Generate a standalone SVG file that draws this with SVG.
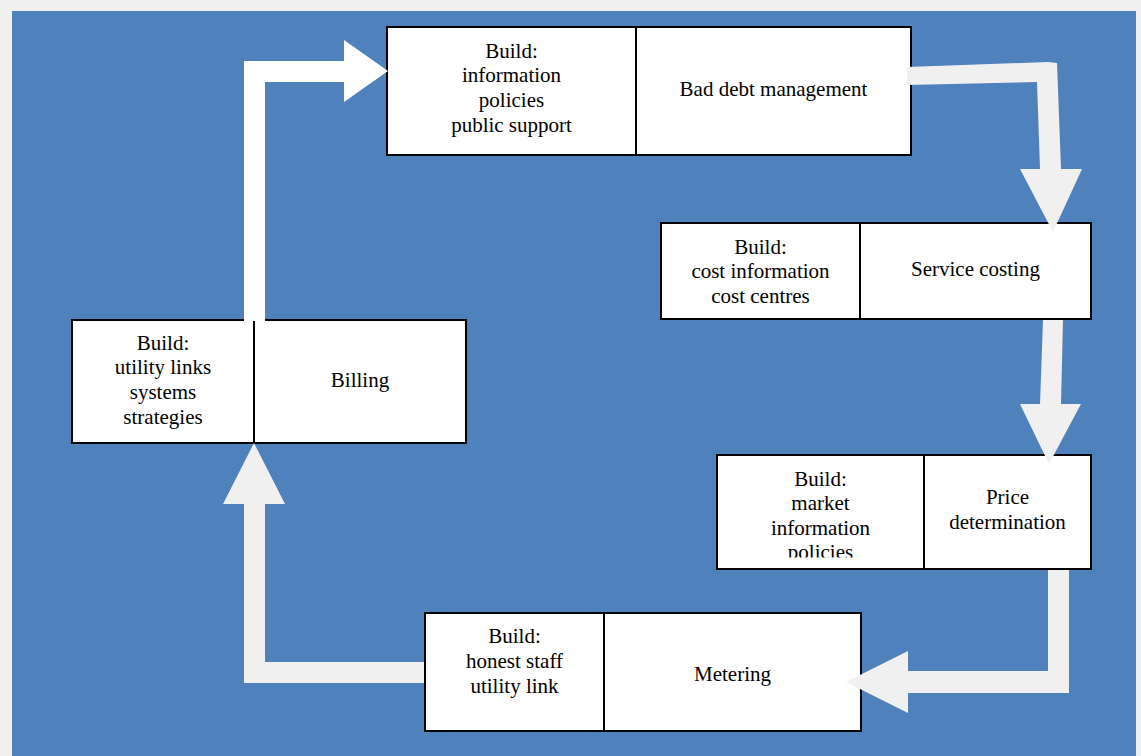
<svg xmlns="http://www.w3.org/2000/svg" width="1141" height="756" viewBox="0 0 1141 756">
<style>
.box{fill:#ffffff;stroke:#000000;stroke-width:2}
.div{stroke:#000000;stroke-width:2}
.t{font-family:"Liberation Serif","Times New Roman",serif;font-size:21px;fill:#000000;text-anchor:middle}
.arr{fill:#f0f0f0}
.arrw{fill:#ffffff}
</style>
<defs>
<clipPath id="clipPrice"><rect x="717" y="455" width="207" height="102.5"/></clipPath>
</defs>
<rect x="0" y="0" width="1141" height="756" fill="#f0f0f0"/>
<rect x="12" y="11" width="1124" height="745" fill="#4f81bd"/>

<g id="node-bad-debt">
<rect class="box" x="387" y="27" width="524" height="128"/>
<line class="div" x1="636" y1="27" x2="636" y2="155"/>
<text class="t" x="511.5" y="58">Build:</text>
<text class="t" x="511.5" y="82">information</text>
<text class="t" x="511.5" y="107">policies</text>
<text class="t" x="511.5" y="132">public support</text>
<text class="t" x="773.5" y="96">Bad debt management</text>
</g>

<g id="node-service-costing">
<rect class="box" x="661" y="223" width="430" height="96"/>
<line class="div" x1="860" y1="223" x2="860" y2="319"/>
<text class="t" x="760.5" y="254">Build:</text>
<text class="t" x="760.5" y="278">cost information</text>
<text class="t" x="760.5" y="303">cost centres</text>
<text class="t" x="975.5" y="276">Service costing</text>
</g>

<g id="node-price">
<rect class="box" x="717" y="455" width="374" height="114"/>
<line class="div" x1="924" y1="455" x2="924" y2="569"/>
<g clip-path="url(#clipPrice)">
<text class="t" x="820.5" y="486">Build:</text>
<text class="t" x="820.5" y="510">market</text>
<text class="t" x="820.5" y="535">information</text>
<text class="t" x="820.5" y="559">policies</text>
</g>
<text class="t" x="1007.5" y="504">Price</text>
<text class="t" x="1007.5" y="529">determination</text>
</g>

<g id="node-metering">
<rect class="box" x="425" y="613" width="436" height="118"/>
<line class="div" x1="604" y1="613" x2="604" y2="731"/>
<text class="t" x="514.5" y="643">Build:</text>
<text class="t" x="514.5" y="668">honest staff</text>
<text class="t" x="514.5" y="693">utility link</text>
<text class="t" x="732.5" y="681">Metering</text>
</g>

<g id="node-billing">
<rect class="box" x="72" y="320" width="394" height="123"/>
<line class="div" x1="254" y1="320" x2="254" y2="443"/>
<text class="t" x="163" y="350">Build:</text>
<text class="t" x="163" y="374">utility links</text>
<text class="t" x="163" y="399">systems</text>
<text class="t" x="163" y="424">strategies</text>
<text class="t" x="360" y="387">Billing</text>
</g>

<g id="connectors">
<polygon class="arrw" points="244,321 244,61 344,61 344,40 388,71 344,102 344,82 265,82 265,321"/>
<polygon class="arr" points="907,67 1048,62 1057,63 1061,169 1082,169 1053,232 1020,169 1040,169 1037,82 907,85"/>
<polygon class="arr" points="1043,320 1063,320 1061,404 1081,404 1049,464 1020,404 1040,404"/>
<polygon class="arr" points="1048,570 1069,570 1069,693 908,693 908,713 846,682 908,651 908,671 1048,671"/>
<polygon class="arr" points="424,662 265,662 265,504 285,504 254,443 223,504 244,504 244,683 424,683"/>
</g>
</svg>
